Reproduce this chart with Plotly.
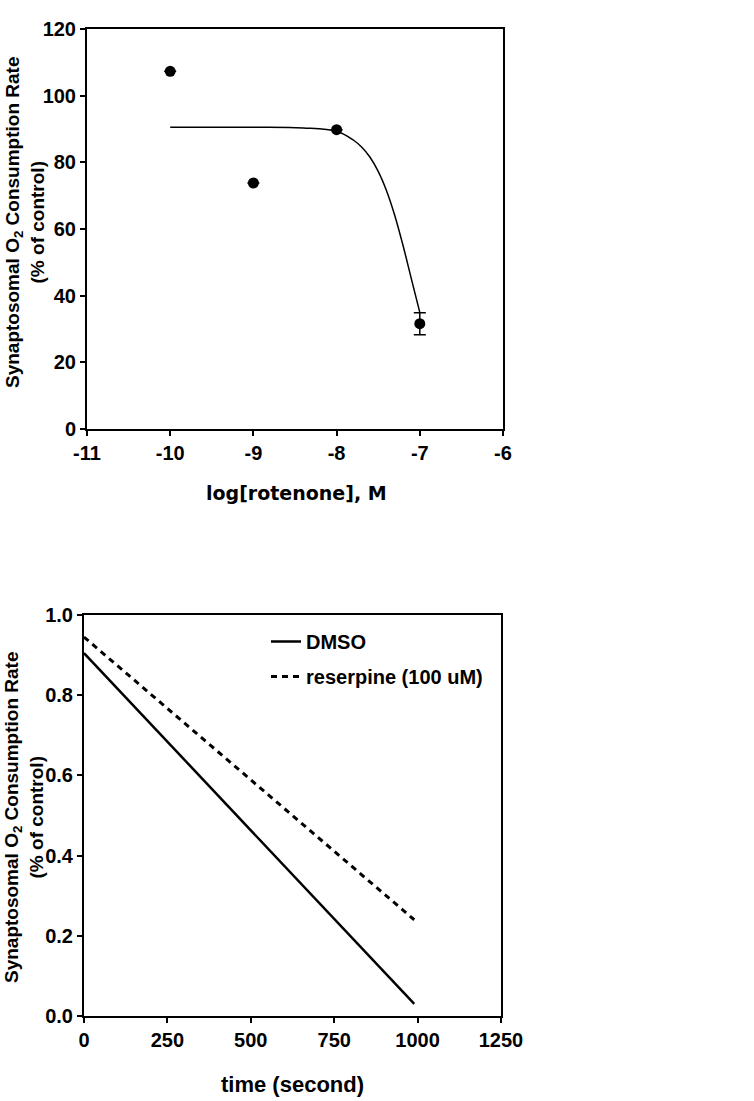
import plotly.graph_objects as go

# ---- Top panel data ----
rot_log = [-10, -9, -8, -7]
rot_rate = [107.3, 73.8, 89.8, 31.6]
rot_err = [0, 0, 0, 3.3]
fit_x = [-10, -9, -8.4, -8.0, -7.8, -7.7, -7.6, -7.5, -7.4, -7.3, -7.2, -7.1, -7.0]
fit_y = [90.5, 90.5, 90.3, 89.3, 86.7, 84.6, 81.6, 77.3, 71.5, 64.0, 54.9, 44.9, 35.0]
top_xticks = [-11, -10, -9, -8, -7, -6]
top_xlabels = ["-11", "-10", "-9", "-8", "-7", "-6"]
top_yticks = [0, 20, 40, 60, 80, 100, 120]

# ---- Bottom panel data ----
time_s = [0, 990]
dmso = [0.905, 0.03]
reserpine = [0.945, 0.24]
bot_xticks = [0, 250, 500, 750, 1000, 1250]
bot_yticks = [0.0, 0.2, 0.4, 0.6, 0.8, 1.0]

W, H = 754, 1101


def px(x):
    return x / W


def py(y):
    return 1 - y / H


FONT = "Liberation Sans, Arial, sans-serif"
tickfont = dict(family=FONT, size=20, color="black", weight="bold")

fig = go.Figure()

fig.add_trace(go.Scatter(x=fit_x, y=fit_y, mode="lines", line=dict(color="black", width=1.5, shape="spline"),
                         showlegend=False, xaxis="x", yaxis="y"))
fig.add_trace(go.Scatter(x=rot_log, y=rot_rate, mode="markers",
                         marker=dict(color="black", size=11),
                         error_y=dict(type="data", array=rot_err, color="black", thickness=1.5, width=6),
                         showlegend=False, xaxis="x", yaxis="y"))

fig.add_trace(go.Scatter(x=time_s, y=dmso, mode="lines", name="DMSO", legendgroup="a",
                         line=dict(color="black", width=2.5), xaxis="x2", yaxis="y2"))
fig.add_trace(go.Scatter(x=time_s, y=reserpine, mode="lines", name="reserpine (100 uM)", legendgroup="b",
                         line=dict(color="black", width=3, dash="6px,5px"), xaxis="x2", yaxis="y2"))

axis_common = dict(showline=True, linecolor="black", linewidth=2, mirror=True, ticks="outside",
                   ticklen=5, tickwidth=2, tickcolor="black", showgrid=False, zeroline=False,
                   tickfont=tickfont, automargin=False)

fig.update_layout(
    width=W, height=H, margin=dict(l=0, r=0, t=0, b=0, autoexpand=False),
    paper_bgcolor="white", plot_bgcolor="white",
    xaxis=dict(domain=[px(87), px(503)], range=[-11, -6], tickvals=top_xticks, ticktext=top_xlabels,
               anchor="y", **axis_common),
    yaxis=dict(domain=[py(429), py(29)], range=[0, 120], tickvals=top_yticks, anchor="x", **axis_common),
    xaxis2=dict(domain=[px(84), px(501)], range=[0, 1250], tickvals=bot_xticks, anchor="y2", **axis_common),
    yaxis2=dict(domain=[py(1016), py(615)], range=[0, 1.0], tickvals=bot_yticks,
                tickformat=".1f", anchor="x2", **axis_common),
    legend=dict(x=px(266), y=py(622), xanchor="left", yanchor="top", bgcolor="rgba(0,0,0,0)",
                font=dict(family=FONT, size=20, color="black", weight="bold"), tracegroupgap=6),
    showlegend=True,
)

ytitle = "Synaptosomal O<sub>2</sub> Consumption Rate<br>(% of control)"
titlefont = dict(family=FONT, size=19, color="black", weight="bold")
fig.add_annotation(text=ytitle, x=px(25), y=py(222), xref="paper", yref="paper", textangle=-90,
                   showarrow=False, font=titlefont, xanchor="center", yanchor="middle")
fig.add_annotation(text=ytitle, x=px(24), y=py(817), xref="paper", yref="paper", textangle=-90,
                   showarrow=False, font=titlefont, xanchor="center", yanchor="middle")
fig.add_annotation(text="log[rotenone], M", x=px(296), y=py(493), xref="paper", yref="paper",
                   showarrow=False, font=dict(family="DejaVu Sans", size=19, color="black", weight="bold"),
                   xanchor="center", yanchor="middle")
fig.add_annotation(text="time (second)", x=px(292), y=py(1084), xref="paper", yref="paper",
                   showarrow=False, font=dict(family=FONT, size=22, color="black", weight="bold"),
                   xanchor="center", yanchor="middle")

fig.write_html("out.html", config={"displayModeBar": False},
               post_script="document.body.style.margin='0px';document.body.style.overflow='hidden';")
